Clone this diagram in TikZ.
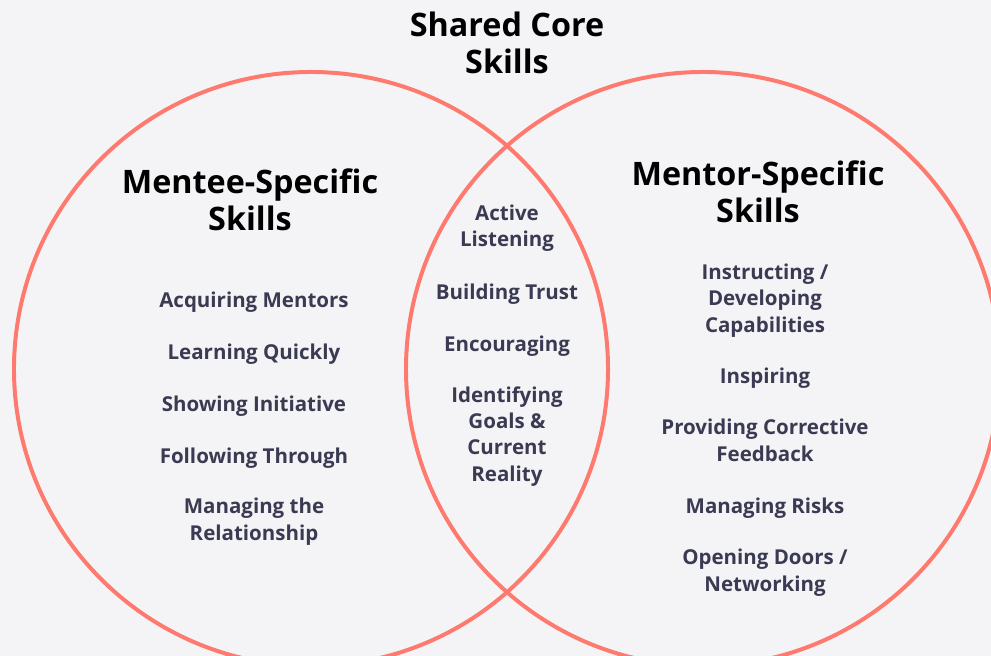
\documentclass[tikz,border=0pt]{standalone}
\usepackage{fontspec}
\setmainfont{Open Sans}
\usepackage{xcolor}
\usepackage{tikz}
\usetikzlibrary{positioning}
\definecolor{ringred}{RGB}{255,122,110}
\definecolor{paper}{RGB}{244,244,247}
\definecolor{slate}{RGB}{58,58,82}

\tikzset{
  ring/.style={draw=ringred, line width=3.4pt},
  heading/.style={font=\bfseries\fontsize{27.6}{32}\selectfont, align=center,
                  text=black, inner sep=0pt, anchor=base},
  skill/.style={font=\bfseries\fontsize{17.5}{22.2}\selectfont, align=center,
                text=slate, inner sep=0pt, anchor=base},
}

\begin{document}
\begin{tikzpicture}[x=0.03cm, y=-0.03cm]
  \fill[paper] (0,0) rectangle (991,656);
  \clip (0,0) rectangle (991,656);

  % the two overlapping circles
  \coordinate (mentee) at (311,369);
  \coordinate (mentor) at (703,369);
  \draw[ring] (mentee) circle[radius=8.91cm];
  \draw[ring] (mentor) circle[radius=8.91cm];

  % headings (placed by the baseline of their last line)
  \node[heading] (shared)    at (507,74)  {Shared Core\\Skills};
  \node[heading] (menteehd)  at (250,231) {Mentee-Specific\\Skills};
  \node[heading] (mentorhd)  at (758,223) {Mentor-Specific\\Skills};

  % mentee side
  \foreach \n/\y/\l in {acq/307/{Acquiring Mentors},
                        learn/359/{Learning Quickly},
                        init/411/{Showing Initiative},
                        follow/463/{Following Through},
                        relat/540/{Managing the\\Relationship}} {
    \node[skill] (\n) at (254,\y) {\l};
  }

  % shared core
  \foreach \n/\y/\l in {listen/247/{Active\\Listening},
                        trust/299/{Building Trust},
                        encour/351/{Encouraging},
                        goals/481/{Identifying\\Goals \&\\Current\\Reality}} {
    \node[skill] (\n) at (507,\y) {\l};
  }

  % mentor side
  \foreach \n/\y/\l in {instr/332/{Instructing /\\Developing\\Capabilities},
                        inspire/383/{Inspiring},
                        feedbk/461/{Providing Corrective\\Feedback},
                        risks/513/{Managing Risks},
                        doors/591/{Opening Doors /\\Networking}} {
    \node[skill] (\n) at (765,\y) {\l};
  }
\end{tikzpicture}
\end{document}
